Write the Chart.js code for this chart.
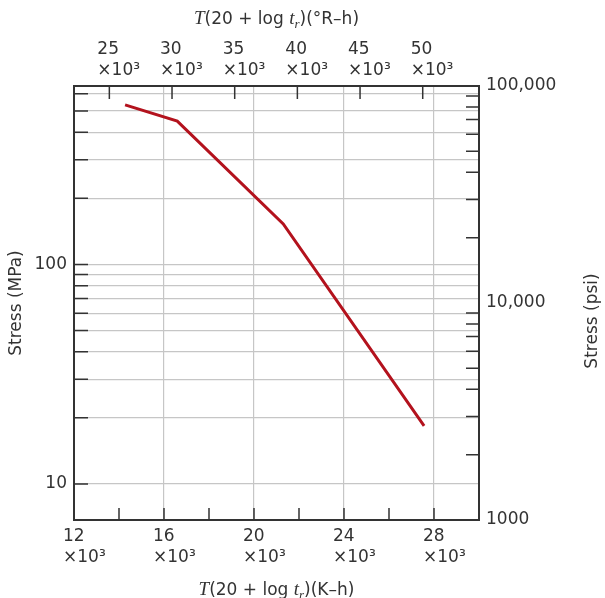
<!DOCTYPE html>
<html>
<head>
<meta charset="utf-8">
<script src="https://cdn.jsdelivr.net/npm/chart.js@4"></script>
<style>
  body { margin: 0; background: #fff; }
  canvas { display: block; }
</style>
</head>
<body>
<canvas id="myChart" width="605" height="598"></canvas>
<script>
// curve: stress vs T(20 + log tr)
const lmpKelvin = [14270, 16590, 21300, 27560];
const stressMPa = [533, 450, 153, 18.4];

// axes
const kRange = [12000, 30000];
const kTicks = [12000, 14000, 16000, 18000, 20000, 22000, 24000, 26000, 28000];
const kLabels = [12000, 16000, 20000, 24000, 28000];
const rRange = [22180, 54490];
const rTicks = [25000, 30000, 35000, 40000, 45000, 50000];
const mpaRange = [6.85, 650];
const mpaTicks = [10, 20, 30, 40, 50, 60, 70, 80, 90, 100, 200, 300, 400, 500, 600];
const mpaLabels = [10, 100];
const psiRange = [1000, 100000];
const psiTicks = [1000, 2000, 3000, 4000, 5000, 6000, 7000, 8000, 9000,
  10000, 20000, 30000, 40000, 50000, 60000, 70000, 80000, 90000, 100000];
const psiLabels = [1000, 10000, 100000];

const FONT = "'DejaVu Sans', sans-serif";
const SERIF = "'Liberation Serif', 'DejaVu Serif', serif";
const INK = "#333";
const GRID = "#c6c6c6";
const CLEAR = "rgba(0,0,0,0)";

const setTicks = (vals) => (scale) => {
  scale.ticks = vals.map((v) => ({ value: v }));
};
const kiloLabel = (v) => [String(v / 1000), "\u00d710\u00b3"];
const psiText = (v) => (v < 10000 ? String(v) : v.toLocaleString("en-US"));

function drawRich(ctx, parts, cx, baseline) {
  let w = 0;
  parts.forEach((p) => {
    ctx.font = p.font;
    p.w = ctx.measureText(p.t).width;
    w += p.w;
  });
  let x = cx - w / 2;
  ctx.textAlign = "left";
  ctx.textBaseline = "alphabetic";
  parts.forEach((p) => {
    ctx.font = p.font;
    ctx.fillText(p.t, x, baseline + (p.dy || 0));
    x += p.w;
  });
}

function lmpTitle(unit) {
  return [
    { t: "T", font: "italic 19px " + SERIF },
    { t: "(20 + log ", font: "17px " + FONT },
    { t: "t", font: "italic 19px " + SERIF },
    { t: "r", font: "italic 13px " + SERIF, dy: 4 },
    { t: ")(" + unit + "\u2013h)", font: "17px " + FONT },
  ];
}

const extras = {
  id: "extras",
  afterDraw(chart) {
    const { ctx, chartArea: a, scales } = chart;
    ctx.save();
    // inward tick marks
    ctx.strokeStyle = INK;
    ctx.lineWidth = 1.5;
    ctx.beginPath();
    kTicks.forEach((v) => {
      if (v === kRange[0]) return;
      const x = scales.x.getPixelForValue(v);
      ctx.moveTo(x, a.bottom);
      ctx.lineTo(x, a.bottom - 12);
    });
    rTicks.forEach((v) => {
      const x = scales.x2.getPixelForValue(v);
      ctx.moveTo(x, a.top);
      ctx.lineTo(x, a.top + 13);
    });
    mpaTicks.forEach((v) => {
      const y = scales.y.getPixelForValue(v);
      ctx.moveTo(a.left, y);
      ctx.lineTo(a.left + 14, y);
    });
    psiTicks.forEach((v) => {
      if (psiLabels.includes(v)) return;
      const y = scales.y2.getPixelForValue(v);
      ctx.moveTo(a.right, y);
      ctx.lineTo(a.right - 13, y);
    });
    ctx.stroke();

    // titles
    ctx.fillStyle = INK;
    const cx = (a.left + a.right) / 2;
    drawRich(ctx, lmpTitle("\u00b0R"), cx, 24);
    drawRich(ctx, lmpTitle("K"), cx, 595);

    ctx.translate(593, 321);
    ctx.rotate(-Math.PI / 2);
    ctx.font = "17px " + FONT;
    ctx.textAlign = "center";
    ctx.textBaseline = "middle";
    ctx.fillText("Stress (psi)", 0, 0);
    ctx.restore();
  },
};

const border = { display: true, color: INK, width: 2 };
const tickFont = { family: FONT, size: 17, lineHeight: 1.25 };

const myChart = new Chart("myChart", {
  type: "line",
  data: {
    datasets: [
      {
        data: lmpKelvin.map((x, i) => ({ x: x, y: stressMPa[i] })),
        xAxisID: "x",
        yAxisID: "y",
        borderColor: "#b3121d",
        borderWidth: 3,
        pointRadius: 0,
        tension: 0,
        fill: false,
      },
    ],
  },
  options: {
    responsive: false,
    animation: false,
    layout: { padding: 0 },
    plugins: { legend: { display: false }, tooltip: { enabled: false } },
    scales: {
      x: {
        type: "linear",
        position: "bottom",
        min: kRange[0],
        max: kRange[1],
        afterBuildTicks: setTicks(kTicks),
        afterFit: (s) => { s.height = 78; },
        border: border,
        grid: {
          drawTicks: false,
          lineWidth: 1.2,
          color: (c) => (c.tick && kLabels.includes(c.tick.value) && c.tick.value !== kRange[0] ? GRID : CLEAR),
        },
        ticks: {
          autoSkip: false,
          maxRotation: 0,
          minRotation: 0,
          align: "start",
          labelOffset: -11,
          padding: 6,
          color: INK,
          font: tickFont,
          callback: (v) => (kLabels.includes(v) ? kiloLabel(v) : ""),
        },
      },
      x2: {
        type: "linear",
        position: "top",
        min: rRange[0],
        max: rRange[1],
        afterBuildTicks: setTicks(rTicks),
        afterFit: (s) => { s.height = 86; },
        border: border,
        grid: { drawTicks: false, drawOnChartArea: false },
        ticks: {
          autoSkip: false,
          maxRotation: 0,
          minRotation: 0,
          align: "start",
          labelOffset: -12,
          padding: 5,
          color: INK,
          font: tickFont,
          callback: (v) => kiloLabel(v),
        },
      },
      y: {
        type: "logarithmic",
        position: "left",
        min: mpaRange[0],
        max: mpaRange[1],
        afterBuildTicks: setTicks(mpaTicks),
        afterFit: (s) => { s.width = 74; },
        border: border,
        grid: { drawTicks: false, lineWidth: 1.2, color: GRID },
        title: {
          display: true,
          text: "Stress (MPa)",
          color: INK,
          font: { family: FONT, size: 17 },
          padding: { top: 6, bottom: 0 },
        },
        ticks: {
          autoSkip: false,
          padding: 7,
          color: INK,
          font: tickFont,
          callback: (v) => (mpaLabels.includes(v) ? String(v) : ""),
        },
      },
      y2: {
        type: "logarithmic",
        position: "right",
        min: psiRange[0],
        max: psiRange[1],
        afterBuildTicks: setTicks(psiTicks),
        afterFit: (s) => { s.width = 126; },
        border: border,
        grid: { drawTicks: false, drawOnChartArea: false },
        ticks: {
          autoSkip: false,
          padding: 7,
          color: INK,
          font: tickFont,
          callback: (v) => (psiLabels.includes(v) ? psiText(v) : ""),
        },
      },
    },
  },
  plugins: [extras],
});
</script>
</body>
</html>
